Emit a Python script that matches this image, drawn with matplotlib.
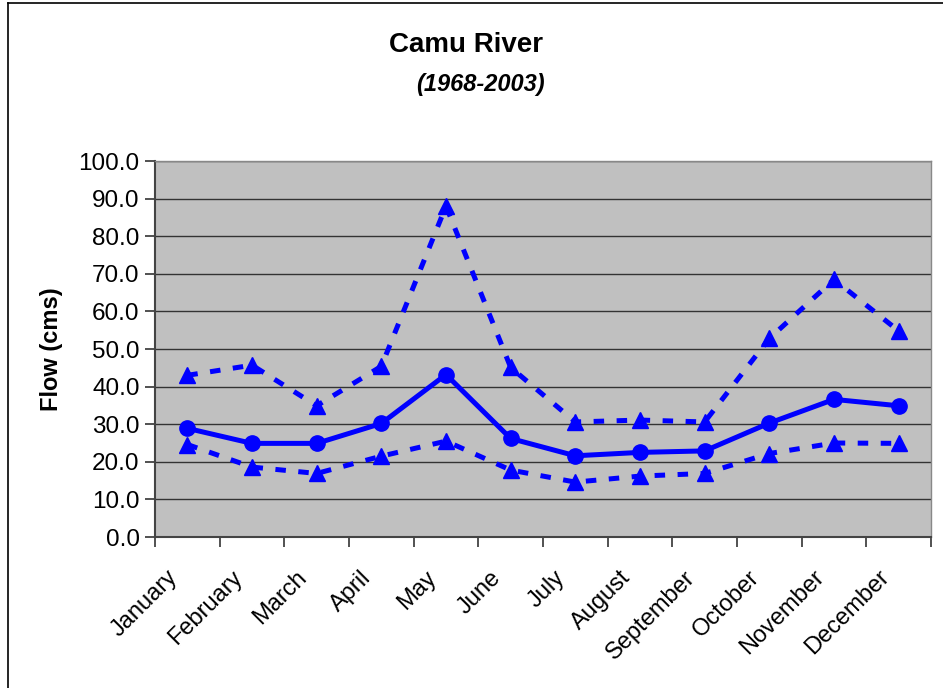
import matplotlib
matplotlib.use("Agg")
import matplotlib.pyplot as plt
from matplotlib.lines import Line2D
from matplotlib.transforms import ScaledTranslation

months = ["January", "February", "March", "April", "May", "June", "July",
          "August", "September", "October", "November", "December"]
mean_flow = [28.9, 24.9, 24.9, 30.2, 43.2, 26.2, 21.6, 22.5, 22.9, 30.3, 36.6, 34.9]
upper_flow = [43.0, 45.7, 34.9, 45.4, 88.0, 45.1, 30.6, 31.1, 30.6, 52.8, 68.5, 54.8]
lower_flow = [24.6, 18.6, 16.9, 21.5, 25.5, 17.8, 14.6, 16.2, 16.9, 22.2, 25.0, 24.9]
yticks = [0, 10, 20, 30, 40, 50, 60, 70, 80, 90, 100]

plt.rcParams['font.family'] = ['Liberation Sans', 'DejaVu Sans']

W, H = 943, 688
fig = plt.figure(figsize=(W / 100, H / 100), dpi=100)
ax = fig.add_axes([155 / W, 1 - 537 / H, (931 - 155) / W, (537 - 161) / H])
ax.set_facecolor('#C0C0C0')

x = list(range(len(months)))
blue = '#0000FF'
ax.plot(x, upper_flow, color=blue, lw=3.6, linestyle=(0, (2.1, 2.5)), marker='^',
        markersize=11, zorder=3)
ax.plot(x, lower_flow, color=blue, lw=3.6, linestyle=(0, (2.1, 2.5)), marker='^',
        markersize=11, zorder=3)
ax.plot(x, mean_flow, color=blue, lw=3.6, linestyle='-', marker='o',
        markersize=11, zorder=4)

ax.set_xlim(-0.5, len(months) - 0.5)
ax.set_ylim(0, 100)
ax.set_yticks(yticks)
ax.set_yticklabels([f"{v:.1f}" for v in yticks], fontsize=17.5)
ax.yaxis.grid(True, color='#333333', lw=1)
ax.set_axisbelow(True)

ax.set_xticks([i - 0.5 for i in range(len(months) + 1)])
ax.set_xticklabels([])
ax.set_xticks(x, minor=True)
ax.set_xticklabels(months, minor=True, rotation=45, ha='right', va='top',
                   rotation_mode='anchor', fontsize=17)
ax.tick_params(axis='x', which='minor', length=0, pad=14)
ax.tick_params(axis='x', which='major', length=7, width=1.2, color='#333333',
               direction='out')
ax.tick_params(axis='y', length=7, width=1.2, color='#333333', direction='out', pad=4)

offset = ScaledTranslation(-21 / 100, -10 / 100, fig.dpi_scale_trans)
for lbl in ax.get_xticklabels(minor=True):
    lbl.set_transform(lbl.get_transform() + offset)

for side in ['left', 'bottom']:
    ax.spines[side].set_color('#444444')
    ax.spines[side].set_linewidth(1.5)
for side in ['right', 'top']:
    ax.spines[side].set_color('#888888')
    ax.spines[side].set_linewidth(1)

ax.set_ylabel("Flow (cms)", fontsize=17, fontweight='bold', labelpad=11)

fig.text(466 / W, 1 - 45 / H, "Camu River", ha='center', va='center',
         fontsize=20, fontweight='bold')
fig.text(480 / W, 1 - 84 / H, "(1968-2003)", ha='center', va='center',
         fontsize=17, fontweight='bold', fontstyle='italic')

fig.add_artist(Line2D([8 / W, 8 / W], [0, 1 - 3 / H], transform=fig.transFigure,
                      color='black', lw=1.2))
fig.add_artist(Line2D([8 / W, 1], [1 - 3 / H, 1 - 3 / H], transform=fig.transFigure,
                      color='black', lw=1.2))

fig.savefig("out.png", dpi=100)
